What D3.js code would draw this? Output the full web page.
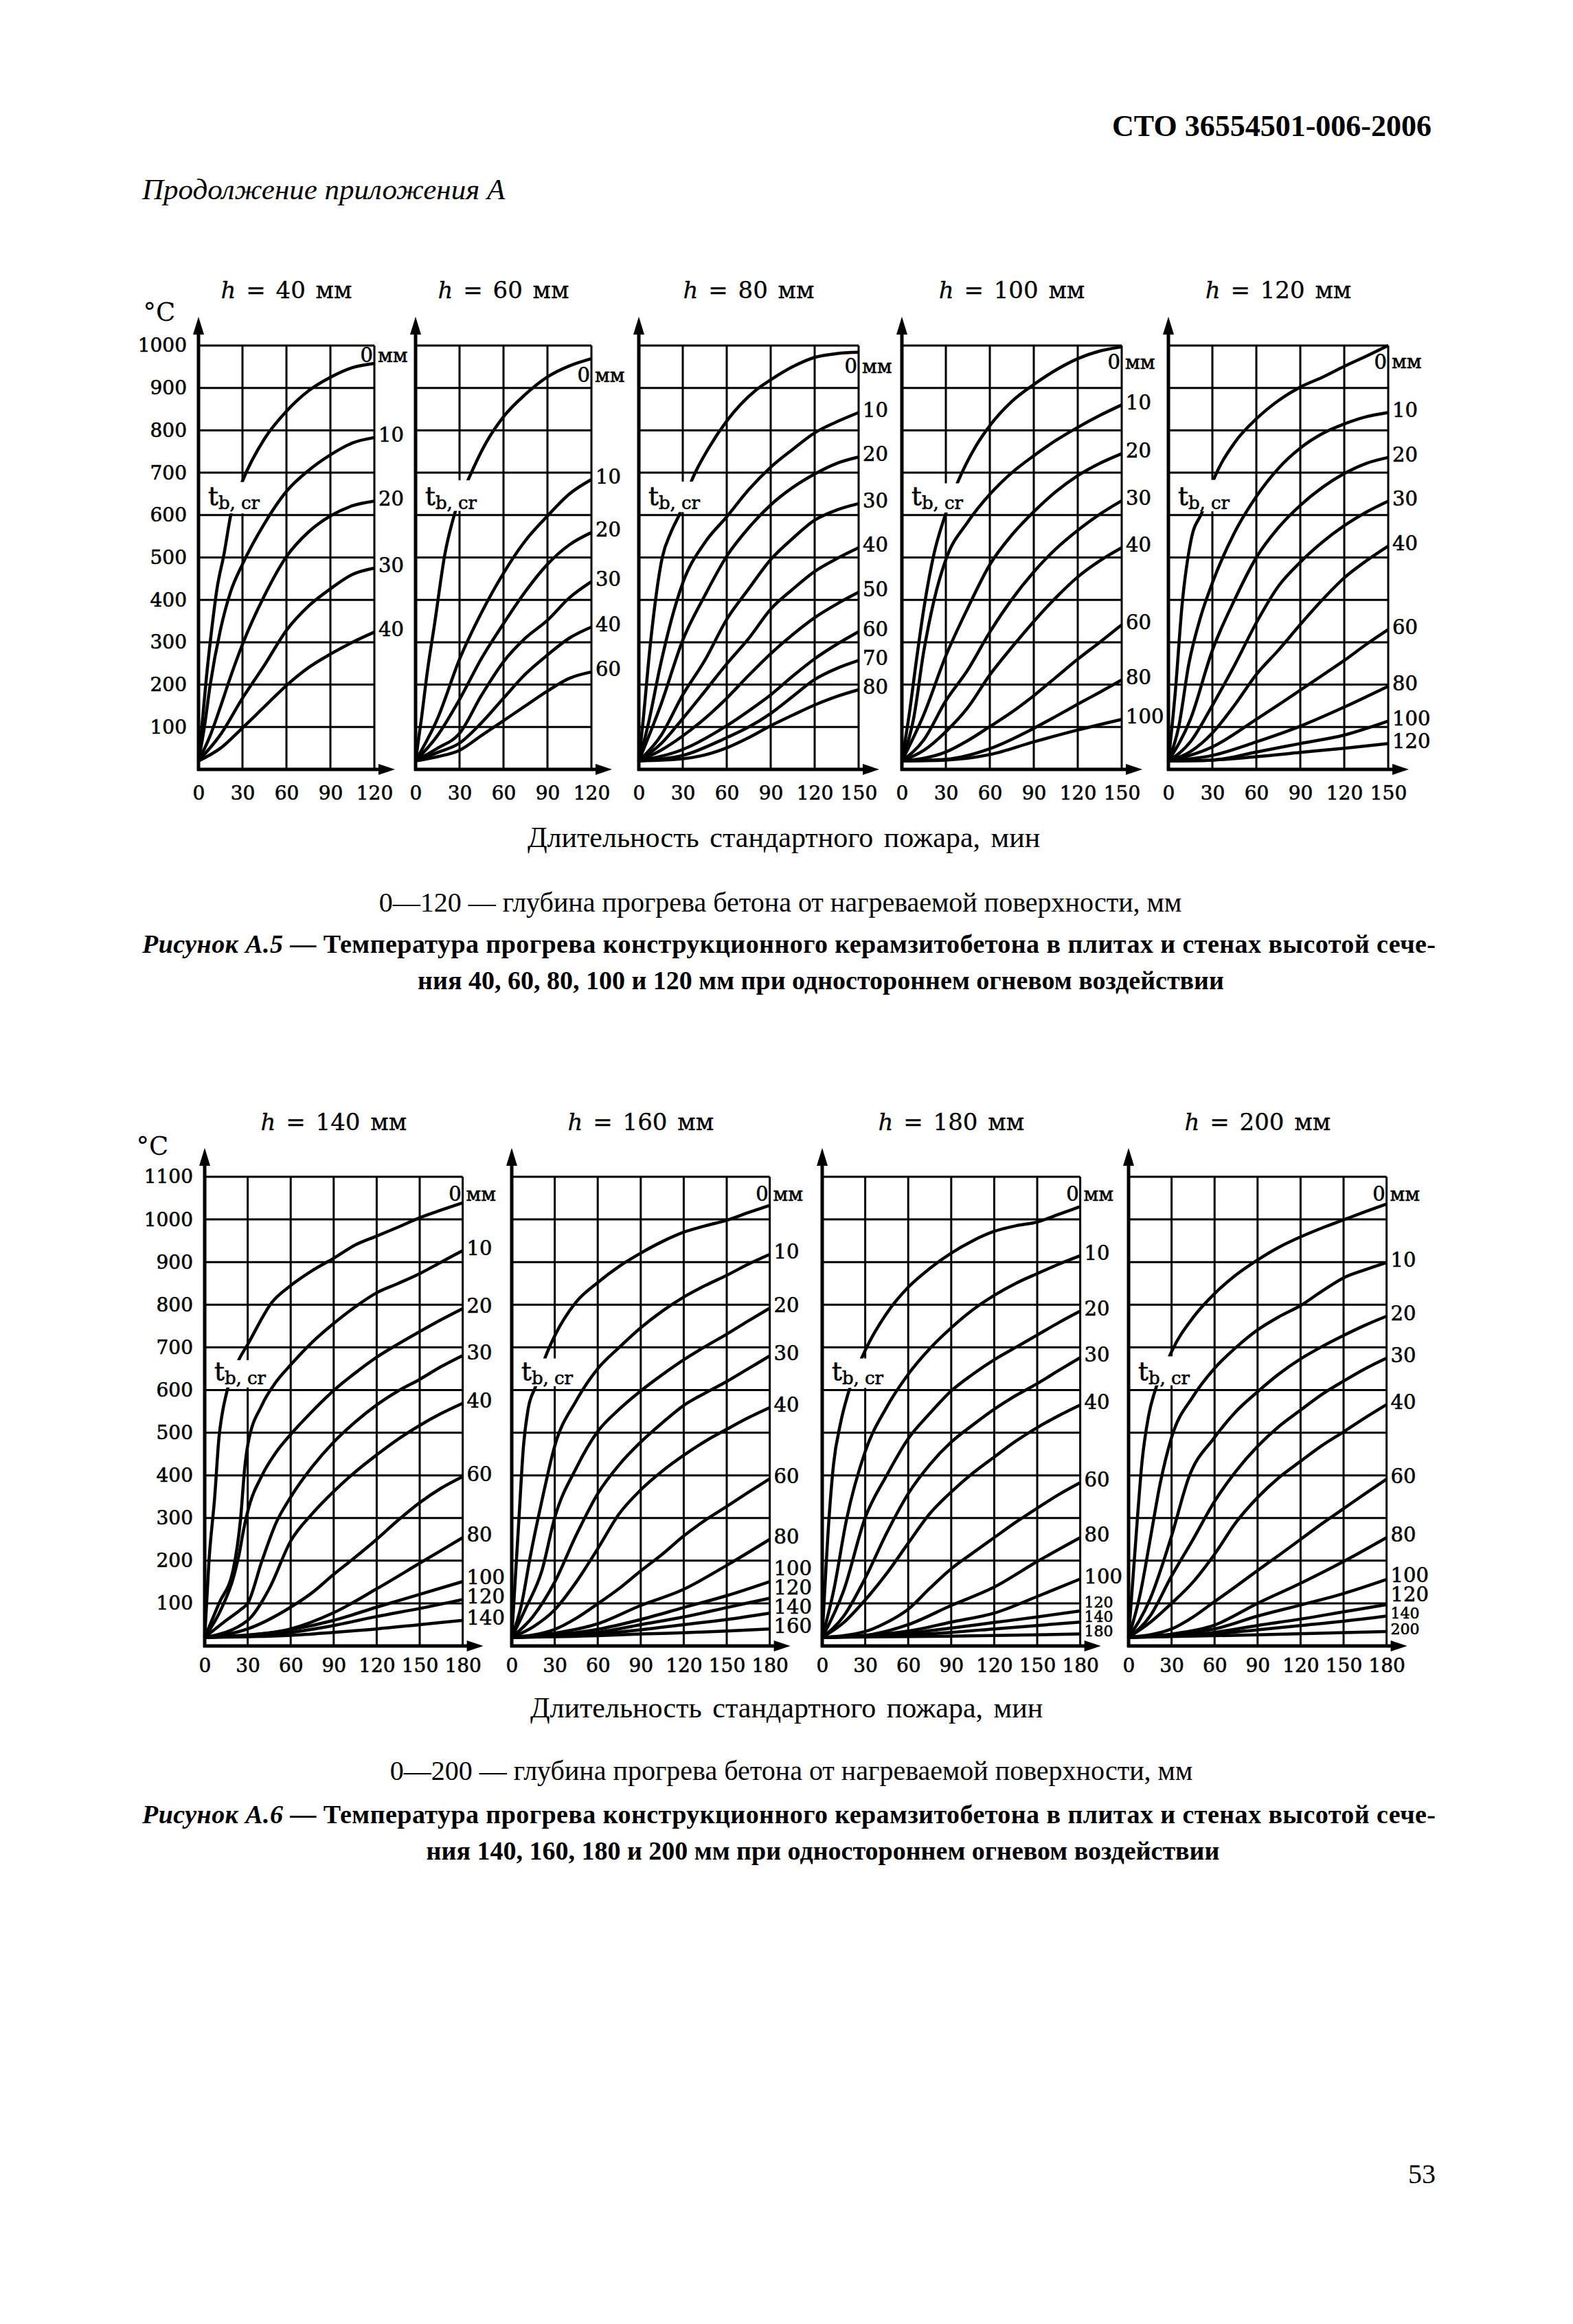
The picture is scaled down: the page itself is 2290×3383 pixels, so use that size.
<!DOCTYPE html>
<html>
<head>
<meta charset="utf-8">
<script src="https://cdn.jsdelivr.net/npm/d3@7"></script>
<style>
  html, body { margin: 0; padding: 0; background: #fff; }
  svg { display: block; }
  .panel text { stroke: #000; stroke-width: 0.6px; }
</style>
</head>
<body>
<div id="page"></div>
<script>

// ---------- Рисунок А.5: данные ----------
// пары [мин, °C], снятые с графиков

const heightsA5 = [40, 60, 80, 100, 120];
const tMaxA5 = [120, 120, 150, 150, 150];
const xTicks120 = [0, 30, 60, 90, 120];
const xTicks150 = [0, 30, 60, 90, 120, 150];
const yTicksA5 = [100, 200, 300, 400, 500, 600, 700, 800, 900, 1000];

const depthsH40 = [0, 10, 20, 30, 40];
const tempsH40 = [
  [[0,20],[2,90],[5.5,221],[9,330],[12.6,426],[17.4,508],[22,600],[30,680],[45,780],[60,845],[75,893],[90,925],[105,948],[120,958]],
  [[0,20],[4,100],[8,200],[15,330],[22,420],[30,484],[45,580],[60,656],[75,705],[90,742],[105,770],[120,783]],
  [[0,20],[8,80],[15,148],[22,220],[30,295],[45,410],[60,502],[75,560],[90,598],[105,622],[120,633]],
  [[0,20],[15,82],[30,168],[45,246],[60,328],[75,385],[90,426],[105,460],[120,475]],
  [[0,20],[15,50],[30,98],[45,148],[60,198],[75,240],[90,272],[105,300],[120,324]]
];

const depthsH60 = [0, 10, 20, 30, 40, 60];
const tempsH60 = [
  [[0,20],[4,120],[8,230],[13,344],[20,508],[27,607],[36,684],[48,770],[60,832],[75,885],[90,926],[105,952],[120,969]],
  [[0,20],[15,120],[30,260],[45,370],[60,463],[75,540],[90,598],[105,650],[120,684]],
  [[0,20],[15,80],[30,165],[45,262],[60,344],[75,420],[90,484],[105,530],[120,559]],
  [[0,20],[15,50],[30,85],[45,175],[60,254],[75,310],[90,352],[105,405],[120,443]],
  [[0,20],[15,40],[30,62],[45,110],[60,168],[75,225],[90,270],[105,310],[120,336]],
  [[0,20],[15,30],[30,45],[45,80],[60,115],[75,150],[90,185],[105,215],[120,230]]
];

const depthsH80 = [0, 10, 20, 30, 40, 50, 60, 70, 80];
const tempsH80 = [
  [[0,20],[2.5,100],[8,300],[16,500],[22,560],[28,604],[36,681],[48,760],[60,822],[80,895],[90,919],[105,950],[120,972],[135,981],[150,984]],
  [[0,20],[6,100],[15,250],[22,350],[30,440],[45,535],[60,596],[75,660],[90,713],[105,755],[120,794],[135,820],[150,842]],
  [[0,20],[15,152],[30,305],[45,410],[60,503],[75,570],[90,624],[105,665],[120,697],[135,722],[150,737]],
  [[0,20],[15,79],[30,176],[45,257],[60,354],[75,426],[90,495],[105,545],[120,588],[135,612],[150,627]],
  [[0,20],[15,60],[30,120],[45,184],[60,249],[75,309],[90,378],[105,425],[120,467],[135,497],[150,523]],
  [[0,20],[15,45],[30,79],[45,120],[60,168],[75,222],[90,273],[105,318],[120,358],[135,390],[150,418]],
  [[0,20],[30,47],[60,103],[75,138],[90,176],[105,220],[120,261],[135,295],[150,325]],
  [[0,20],[30,33],[60,75],[75,100],[90,132],[105,172],[120,212],[135,238],[150,257]],
  [[0,20],[30,25],[60,51],[75,75],[90,103],[105,128],[120,152],[135,172],[150,188]]
];

const depthsH100 = [0, 10, 20, 30, 40, 60, 80, 100];
const tempsH100 = [
  [[0,20],[5,130],[10,260],[15,380],[22,510],[30,604],[38,677],[50,760],[60,811],[75,868],[90,908],[105,942],[120,969],[135,987],[150,997]],
  [[0,20],[8,120],[15,280],[22,400],[30,495],[45,584],[60,649],[75,700],[90,740],[105,776],[120,807],[135,835],[150,860]],
  [[0,20],[15,130],[30,268],[45,381],[60,483],[75,553],[90,608],[105,655],[120,693],[135,722],[150,745]],
  [[0,20],[15,70],[30,162],[45,235],[60,324],[75,401],[90,466],[105,520],[120,564],[135,602],[150,634]],
  [[0,20],[15,45],[30,89],[45,146],[60,223],[75,288],[90,349],[105,405],[120,454],[135,492],[150,523]],
  [[0,20],[30,41],[45,68],[60,101],[75,135],[90,174],[105,217],[120,260],[135,300],[150,341]],
  [[0,20],[30,24],[60,49],[90,97],[105,125],[120,154],[135,182],[150,211]],
  [[0,20],[30,22],[60,35],[90,65],[120,93],[150,118]]
];

const depthsH120 = [0, 10, 20, 30, 40, 60, 80, 100, 120];
const tempsH120 = [
  [[0,20],[4.7,183],[9.3,387],[15.5,542],[23,607],[31,685],[45,770],[60,827],[75,870],[90,902],[105,925],[120,951],[135,975],[150,1000]],
  [[0,20],[7,100],[14,250],[22,360],[30,440],[45,558],[60,644],[75,710],[90,758],[105,792],[120,815],[135,832],[150,842]],
  [[0,20],[15,118],[30,281],[45,399],[60,500],[75,570],[90,623],[105,665],[120,698],[135,722],[150,736]],
  [[0,20],[15,65],[30,151],[45,245],[60,346],[75,432],[90,489],[105,536],[120,575],[135,607],[150,633]],
  [[0,20],[15,42],[30,86],[45,151],[60,224],[75,281],[90,342],[105,400],[120,452],[135,492],[150,527]],
  [[0,20],[30,53],[60,118],[75,152],[90,187],[105,222],[120,257],[135,295],[150,330]],
  [[0,20],[30,33],[60,65],[90,102],[120,147],[150,196]],
  [[0,20],[30,22],[60,41],[90,61],[120,81],[150,114]],
  [[0,20],[30,22],[60,30],[90,40],[120,50],[150,61]]
];

// ---------- Рисунок А.6: данные ----------

const heightsA6 = [140, 160, 180, 200];
const xTicks180 = [0, 30, 60, 90, 120, 150, 180];
const yTicksA6 = [100, 200, 300, 400, 500, 600, 700, 800, 900, 1000, 1100];

const depthsH140 = [0, 10, 20, 30, 40, 60, 80, 100, 120, 140];
const tempsH140 = [
  [[0,20],[3,200],[7,350],[10,490],[12,540],[16,603],[24,672],[30,707],[47,806],[60,845],[75,880],[90,909],[105,940],[120,961],[135,982],[150,1004],[165,1022],[180,1039]],
  [[0,20],[10,100],[20,181],[25,297],[28,420],[30,470],[40,565],[50,620],[60,659],[75,712],[90,756],[105,795],[120,828],[135,850],[150,873],[165,900],[180,927]],
  [[0,20],[12,90],[20,160],[24,215],[27,270],[30,315],[40,400],[50,455],[60,496],[75,550],[90,599],[105,640],[120,677],[135,708],[150,737],[165,765],[180,791]],
  [[0,20],[15,60],[25,85],[30,100],[40,200],[50,290],[60,349],[75,420],[90,478],[105,525],[120,565],[135,598],[150,625],[165,655],[180,681]],
  [[0,20],[30,60],[45,134],[60,246],[75,310],[90,362],[105,408],[120,448],[135,485],[150,517],[165,545],[180,569]],
  [[0,20],[30,40],[60,91],[75,125],[90,168],[105,208],[120,250],[135,295],[150,336],[165,370],[180,397]],
  [[0,20],[30,25],[60,40],[90,78],[120,134],[150,194],[180,254]],
  [[0,20],[60,38],[90,60],[120,91],[150,121],[180,151]],
  [[0,20],[60,32],[90,48],[120,69],[150,88],[180,109]],
  [[0,20],[60,25],[90,32],[120,40],[150,50],[180,60]]
];

const depthsH160 = [0, 10, 20, 30, 40, 60, 80, 100, 120, 140, 160];
const tempsH160 = [
  [[0,20],[5,297],[8.2,469],[11.4,555],[16.5,607],[23.3,676],[30,727],[44.6,805],[60,852],[75,890],[90,921],[105,948],[120,970],[135,985],[150,998],[165,1016],[180,1033]],
  [[0,20],[7,100],[13,211],[21,340],[30,469],[45,575],[60,650],[75,700],[90,746],[105,785],[120,818],[135,845],[150,869],[165,895],[180,918]],
  [[0,20],[10,90],[21,176],[30,301],[45,417],[60,503],[75,555],[90,598],[105,636],[120,671],[135,702],[150,731],[165,762],[180,792]],
  [[0,20],[15,70],[30,150],[45,260],[60,357],[75,425],[90,478],[105,523],[120,564],[135,593],[150,620],[165,650],[180,680]],
  [[0,20],[15,45],[30,85],[45,150],[60,228],[75,310],[90,366],[105,410],[120,447],[135,480],[150,508],[165,535],[180,559]],
  [[0,20],[30,39],[45,65],[60,99],[75,135],[90,176],[105,215],[120,258],[135,295],[150,327],[165,360],[180,392]],
  [[0,20],[30,30],[60,52],[90,95],[120,133],[150,189],[180,250]],
  [[0,20],[60,39],[90,62],[120,90],[150,118],[180,151]],
  [[0,20],[60,32],[90,50],[120,68],[150,90],[180,112]],
  [[0,20],[60,28],[90,38],[120,50],[150,62],[180,77]],
  [[0,20],[60,24],[90,28],[120,31],[150,35],[180,40]]
];

const depthsH180 = [0, 10, 20, 30, 40, 60, 80, 100, 120, 140, 180];
const tempsH180 = [
  [[0,20],[4.7,297],[7.9,426],[12.7,521],[19,602],[27.7,676],[30,693],[45,780],[60,841],[75,885],[90,921],[105,950],[120,972],[135,985],[150,994],[165,1012],[180,1030]],
  [[0,20],[8,130],[17,297],[30,456],[45,560],[60,637],[75,697],[90,746],[105,788],[120,822],[135,850],[150,873],[165,895],[180,915]],
  [[0,20],[15,130],[30,301],[45,400],[60,486],[75,545],[90,598],[105,637],[120,671],[135,700],[150,729],[165,758],[180,785]],
  [[0,20],[15,70],[30,159],[45,265],[60,357],[75,425],[90,478],[105,518],[120,555],[135,587],[150,615],[165,646],[180,676]],
  [[0,20],[15,55],[30,108],[45,170],[60,241],[75,310],[90,361],[105,405],[120,443],[135,480],[150,512],[165,540],[180,565]],
  [[0,20],[30,34],[45,55],[60,86],[75,135],[90,181],[105,218],[120,254],[135,290],[150,323],[165,355],[180,383]],
  [[0,20],[30,25],[60,50],[90,95],[120,138],[150,198],[180,254]],
  [[0,20],[60,35],[90,56],[120,77],[150,116],[180,157]],
  [[0,20],[60,30],[90,42],[120,55],[150,68],[180,82]],
  [[0,20],[60,26],[90,32],[120,40],[150,48],[180,56]],
  [[0,20],[90,23],[180,28]]
];

const depthsH200 = [0, 10, 20, 30, 40, 60, 80, 100, 120, 140, 200];
const tempsH200 = [
  [[0,20],[6.2,301],[9.3,429],[14,540],[19.4,608],[28.8,681],[30,690],[45,770],[60,826],[75,870],[90,905],[105,935],[120,959],[135,980],[150,999],[165,1018],[180,1036]],
  [[0,20],[8,120],[15.5,258],[22,380],[30,489],[45,585],[60,651],[75,700],[90,741],[105,772],[120,798],[135,832],[150,863],[165,882],[180,899]],
  [[0,20],[15,110],[30,258],[42,395],[60,489],[75,550],[90,596],[105,638],[120,673],[135,702],[150,728],[165,752],[180,773]],
  [[0,20],[15,70],[30,164],[45,250],[60,339],[75,410],[90,468],[105,515],[120,553],[135,590],[150,621],[165,650],[180,675]],
  [[0,20],[15,55],[30,100],[45,150],[60,215],[75,290],[90,348],[105,395],[120,433],[135,470],[150,502],[165,535],[180,566]],
  [[0,20],[30,40],[45,68],[60,104],[75,140],[90,177],[105,213],[120,250],[135,287],[150,322],[165,357],[180,391]],
  [[0,20],[30,28],[60,49],[90,100],[120,147],[150,198],[180,254]],
  [[0,20],[60,40],[90,70],[120,96],[150,123],[180,156]],
  [[0,20],[60,32],[90,48],[120,63],[150,80],[180,97]],
  [[0,20],[60,28],[90,38],[120,48],[150,58],[180,70]],
  [[0,20],[90,26],[180,34]]
];

// ---------- раскладка страницы ----------

const W = 2290, H = 3383;
const chartFont = "'DejaVu Serif', serif";
const textFont = "'Liberation Serif', 'Times New Roman', serif";

const svg = d3.select("#page")
  .append("svg")
  .attr("width", W)
  .attr("height", H)
  .attr("viewBox", [0, 0, W, H]);

svg.append("rect").attr("width", W).attr("height", H).attr("fill", "#fff");

// draw one small plot (grid, curves, axes, labels)
function drawPanel(p) {
  const right = p.left + p.w30 * p.tMax / 30;
  const x = d3.scaleLinear().domain([0, p.tMax]).range([p.left, right]);
  const y = d3.scaleLinear().domain([0, p.yMax]).range([p.bottom, p.top]);
  const g = svg.append("g").attr("class", "panel");

  // grid
  g.append("g").selectAll("line")
    .data(d3.range(30, p.tMax + 1, 30))
    .join("line")
      .attr("x1", d => x(d)).attr("x2", d => x(d))
      .attr("y1", y(0)).attr("y2", y(p.yMax))
      .attr("stroke", "#000").attr("stroke-width", 3);
  g.append("g").selectAll("line")
    .data(d3.range(100, p.yMax + 1, 100))
    .join("line")
      .attr("x1", x(0)).attr("x2", x(p.tMax))
      .attr("y1", d => y(d)).attr("y2", d => y(d))
      .attr("stroke", "#000").attr("stroke-width", 3);

  // curves
  const line = d3.line()
    .x(d => x(d[0]))
    .y(d => y(d[1]))
    .curve(d3.curveMonotoneX);
  g.append("g").selectAll("path")
    .data(p.temps)
    .join("path")
      .attr("d", line)
      .attr("fill", "none")
      .attr("stroke", "#000")
      .attr("stroke-width", 4.5)
      .attr("stroke-linejoin", "round");

  // white patch behind t_b,cr (breaks the 0 mm curve and the 30 min line)
  const m = p.mask;
  g.append("rect")
    .attr("x", x(m[0])).attr("y", y(m[3]))
    .attr("width", x(m[1]) - x(m[0]))
    .attr("height", y(m[2]) - y(m[3]))
    .attr("fill", "#fff");
  const tb = g.append("text")
    .attr("x", x(0) + 14).attr("y", y(624))
    .attr("font-family", chartFont).attr("font-size", 37);
  tb.append("tspan").text("t");
  tb.append("tspan").attr("font-size", 26).attr("dy", 6).text("b, cr");

  // axes with arrows
  g.append("line")
    .attr("x1", x(0)).attr("x2", x(0))
    .attr("y1", y(0) + 2).attr("y2", y(p.yMax) - 22)
    .attr("stroke", "#000").attr("stroke-width", 5);
  g.append("path")
    .attr("d", `M${x(0)},${y(p.yMax) - 42} L${x(0) - 8},${y(p.yMax) - 16} L${x(0) + 8},${y(p.yMax) - 16} Z`)
    .attr("fill", "#000");
  g.append("line")
    .attr("x1", x(0) - 2).attr("x2", right + 10)
    .attr("y1", y(0)).attr("y2", y(0))
    .attr("stroke", "#000").attr("stroke-width", 5);
  g.append("path")
    .attr("d", `M${right + 30},${y(0)} L${right + 6},${y(0) - 8} L${right + 6},${y(0) + 8} Z`)
    .attr("fill", "#000");

  // x tick labels
  g.append("g")
    .attr("transform", `translate(0,${y(0)})`)
    .call(d3.axisBottom(x).tickValues(p.xTicks).tickSize(0).tickPadding(p.tickPad).tickFormat(d3.format("d")))
    .call(a => a.select(".domain").remove())
    .attr("font-family", chartFont)
    .attr("font-size", 28);

  // y tick labels only on the first panel
  if (p.yTicks) {
    g.append("g")
      .attr("transform", `translate(${x(0)},0)`)
      .call(d3.axisLeft(y).tickValues(p.yTicks).tickSize(0).tickPadding(17).tickFormat(d3.format("d")))
      .call(a => a.select(".domain").remove())
      .attr("font-family", chartFont)
      .attr("font-size", 28);
  }

  // title h = .. мм
  const tt = g.append("text")
    .attr("x", (x(0) + right) / 2).attr("y", p.titleY)
    .attr("text-anchor", "middle")
    .attr("font-family", chartFont).attr("font-size", 34)
    .attr("word-spacing", 4)
    .style("stroke-width", "0.3px");
  tt.append("tspan").attr("font-style", "italic").text("h");
  tt.append("tspan").text(` = ${p.h} мм`);

  // 0 мм label
  g.append("text")
    .attr("x", right - 2).attr("y", y(p.zeroT)).attr("dy", "0.35em")
    .attr("text-anchor", "end")
    .attr("font-family", chartFont).attr("font-size", 29)
    .text("0");
  g.append("text")
    .attr("x", right + 5).attr("y", y(p.zeroT)).attr("dy", "0.35em")
    .attr("font-family", chartFont).attr("font-size", 28)
    .text("мм");

  // depth labels at the right ends, pushed apart from the bottom up
  const labs = p.depths.map((d, i) => ({ d: d, T: p.temps[i][p.temps[i].length - 1][1] }))
    .filter(e => e.d !== 0);
  let prev = Infinity;
  for (let i = labs.length - 1; i >= 0; i--) {
    const small = p.smallFrom != null && labs[i].d >= p.smallFrom;
    const gap = small ? 21 : 28;
    let py = y(labs[i].T) - 4;
    if (prev - py < gap) py = prev - gap;
    labs[i].py = py;
    labs[i].small = small;
    prev = py;
  }
  g.append("g").selectAll("text")
    .data(labs)
    .join("text")
      .attr("x", right + 6)
      .attr("y", d => d.py)
      .attr("dy", "0.35em")
      .attr("font-family", chartFont)
      .attr("font-size", d => d.small ? 22 : 29)
      .text(d => d.d);
}

// ---------- Рисунок А.5 ----------
const leftsA5 = [289, 605, 930, 1313, 1701];
const masksA5 = [[4, 40, 604, 678], [4, 42, 610, 682], [4, 40, 607, 679], [4, 42, 606, 675], [4, 40, 609, 683]];
const zeroA5 = [977, 930, 951, 961, 962];
const depthsA5 = [depthsH40, depthsH60, depthsH80, depthsH100, depthsH120];
const tempsA5 = [tempsH40, tempsH60, tempsH80, tempsH100, tempsH120];

heightsA5.forEach((h, i) => {
  drawPanel({
    h: h, left: leftsA5[i], top: 503, bottom: 1120, w30: 64,
    tMax: tMaxA5[i], yMax: 1000,
    xTicks: tMaxA5[i] === 120 ? xTicks120 : xTicks150,
    yTicks: i === 0 ? yTicksA5 : null,
    depths: depthsA5[i], temps: tempsA5[i],
    mask: masksA5[i], zeroT: zeroA5[i],
    titleY: 434, tickPad: 24
  });
});

// ---------- Рисунок А.6 ----------
const leftsA6 = [298, 745, 1197, 1643];
const masksA6 = [[4, 40, 606, 670], [4, 40, 609, 674], [4, 40, 605, 674], [4, 40, 611, 679]];
const smallA6 = [null, null, 120, 140];
const depthsA6 = [depthsH140, depthsH160, depthsH180, depthsH200];
const tempsA6 = [tempsH140, tempsH160, tempsH180, tempsH200];

heightsA6.forEach((h, i) => {
  drawPanel({
    h: h, left: leftsA6[i], top: 1713, bottom: 2396, w30: 62.6,
    tMax: 180, yMax: 1100,
    xTicks: xTicks180,
    yTicks: i === 0 ? yTicksA6 : null,
    depths: depthsA6[i], temps: tempsA6[i],
    mask: masksA6[i], zeroT: 1060, smallFrom: smallA6[i],
    titleY: 1645, tickPad: 18
  });
});

// °C
svg.append("text").attr("x", 232).attr("y", 467).attr("text-anchor", "middle")
  .attr("font-family", chartFont).attr("font-size", 37).text("°C");
svg.append("text").attr("x", 222).attr("y", 1681).attr("text-anchor", "middle")
  .attr("font-family", chartFont).attr("font-size", 37).text("°C");

// ---------- page text ----------
svg.append("text")
  .attr("x", 2084).attr("y", 198).attr("text-anchor", "end")
  .attr("font-family", textFont).attr("font-weight", "bold").attr("font-size", 44)
  .text("СТО 36554501-006-2006");

svg.append("text")
  .attr("x", 207).attr("y", 290)
  .attr("font-family", textFont).attr("font-style", "italic").attr("font-size", 43)
  .text("Продолжение приложения А");

function pageText(txt, cx, y, size, spacing) {
  svg.append("text")
    .attr("x", cx).attr("y", y).attr("text-anchor", "middle")
    .attr("font-family", textFont).attr("font-size", size).attr("word-spacing", spacing)
    .text(txt);
}

function caption(num, second, y, cx2) {
  const t = svg.append("text")
    .attr("x", 207).attr("y", y)
    .attr("font-family", textFont).attr("font-weight", "bold").attr("font-size", 38)
    .attr("textLength", 1883).attr("lengthAdjust", "spacing");
  t.append("tspan").attr("font-style", "italic").text(`Рисунок А.${num}`);
  t.append("tspan").text(" — Температура прогрева конструкционного керамзитобетона в плитах и стенах высотой сече-");
  svg.append("text")
    .attr("x", cx2).attr("y", y + 53).attr("text-anchor", "middle")
    .attr("font-family", textFont).attr("font-weight", "bold").attr("font-size", 38)
    .text(second);
}

pageText("Длительность стандартного пожара, мин", 1141, 1233, 42, 5);
pageText("0—120 — глубина прогрева бетона от нагреваемой поверхности, мм", 1136, 1327, 40, 0);
caption(5, "ния 40, 60, 80, 100 и 120 мм при одностороннем огневом воздействии", 1387, 1195);

pageText("Длительность стандартного пожара, мин", 1145, 2500, 42, 5);
pageText("0—200 — глубина прогрева бетона от нагреваемой поверхности, мм", 1152, 2591, 40, 0);
caption(6, "ния 140, 160, 180 и 200 мм при одностороннем огневом воздействии", 2654, 1198);

svg.append("text")
  .attr("x", 2090).attr("y", 3178).attr("text-anchor", "end")
  .attr("font-family", textFont).attr("font-size", 40)
  .text("53");

</script>
</body>
</html>
